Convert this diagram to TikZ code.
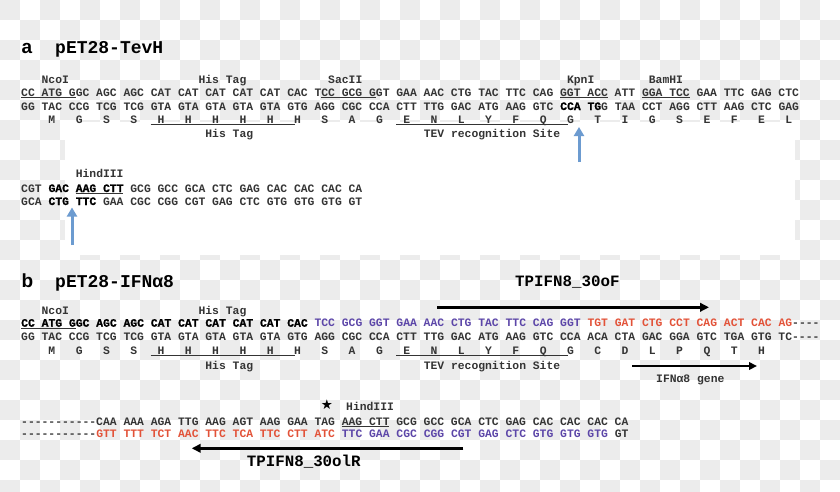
\documentclass[tikz,border=0pt]{standalone}
\usepackage{fontspec}
\setmonofont{Liberation Mono}
\setsansfont{Liberation Sans}
\newfontfamily\heavyfont{Liberation Mono}[FakeBold=1]
\newfontfamily\symfont{DejaVu Sans}
\usetikzlibrary{arrows.meta}

\definecolor{seqgray}{RGB}{52,52,52}
\definecolor{seqpurple}{RGB}{92,70,168}
\definecolor{seqred}{RGB}{226,82,56}
\definecolor{cutblue}{RGB}{108,155,208}
\definecolor{checker}{RGB}{236,236,236}

% sequence colouring
\newcommand{\emseq}[1]{{\heavyfont\bfseries\color{black}#1}}
\newcommand{\purseq}[1]{{\color{seqpurple}#1}}
\newcommand{\redseq}[1]{{\color{seqred}#1}}
% x position of a sequence column
\newcommand{\cx}[1]{(21+6.823*(#1))}

\begin{document}
\begin{tikzpicture}[x=1pt,y=-1pt,
    seq/.style={anchor=base west,inner sep=0pt,text=seqgray,
        font=\ttfamily\bfseries\fontsize{11.37}{13}\selectfont},
    title/.style={anchor=base west,inner sep=0pt,text=black,
        font=\ttfamily\bfseries\fontsize{18}{20}\selectfont},
    panel/.style={anchor=base west,inner sep=0pt,text=black,
        font=\sffamily\bfseries\fontsize{19}{21}\selectfont},
    primerlabel/.style={anchor=base west,inner sep=0pt,text=black,
        font=\ttfamily\bfseries\fontsize{15.8}{18}\selectfont},
    uline/.style={seqgray,line width=0.9pt},
    cutarrow/.style={cutblue,line width=3pt,-{Triangle[length=9pt,width=10pt]}},
    primer/.style={black,line width=2.6pt,-{Triangle[length=9pt,width=8.5pt]}},
    genearrow/.style={black,line width=2pt,-{Triangle[length=8pt,width=7.5pt]}}]

    \useasboundingbox (0,0) rectangle (840,491);

    % Background
    \foreach \i in {0,...,41}
        \foreach \j in {0,...,24}{
            \pgfmathtruncatemacro\s{mod(\i+\j,2)}
            \ifnum\s=0 \fill[checker] (20*\i,20*\j) rectangle ++(20,20); \fi
        }
    \fill[white] (65,122) rectangle (795,255);

    % Panel a
    \node[panel] (panelA) at (21.5,53) {a};
    \node[title] (nameA) at (55,53) {pET28-TevH};

    \node[seq] (ncoiA) at ({\cx{3}},83.4) {NcoI};
    \node[seq] (histagA) at ({\cx{26}},83.4) {His Tag};
    \node[seq] (sacii) at ({\cx{45}},83.4) {SacII};
    \node[seq] (kpni) at ({\cx{80}},83.4) {KpnI};
    \node[seq] (bamhi) at ({\cx{92}},83.4) {BamHI};

    \node[seq] (seqA1) at ({\cx{0}},96.5) {CC ATG GGC AGC AGC CAT CAT CAT CAT CAT CAC TCC GCG GGT GAA AAC CTG TAC TTC CAG GGT ACC ATT GGA TCC GAA TTC GAG CTC};
    \node[seq] (seqA2) at ({\cx{0}},110) {GG TAC CCG TCG TCG GTA GTA GTA GTA GTA GTG AGG CGC CCA CTT TTG GAC ATG AAG GTC \emseq{CCA TG}G TAA CCT AGG CTT AAG CTC GAG};
    \foreach \aa [count=\k from 0] in {M,G,S,S,H,H,H,H,H,H,S,A,G,E,N,L,Y,F,Q,G,T,I,G,S,E,F,E,L}
        \node[seq] (aaA\k) at ({\cx{4+4*\k}},123) {\aa};

    \draw[uline] ({\cx{0}},97.8) -- ({\cx{8}},97.8);
    \draw[uline] ({\cx{44}},97.8) -- ({\cx{52}},97.8);
    \draw[uline] ({\cx{79}},97.8) -- ({\cx{86}},97.8);
    \draw[uline] ({\cx{91}},97.8) -- ({\cx{98}},97.8);
    \draw[uline] ({\cx{19}},124.3) -- ({\cx{40.2}},124.3);
    \draw[uline] ({\cx{55}},124.3) -- ({\cx{80.2}},124.3);

    \node[seq] (histagA2) at ({\cx{27}},137.2) {His Tag};
    \node[seq] (tevA) at ({\cx{59}},137.2) {TEV recognition Site};

    \node[seq] (hindA) at ({\cx{8}},177.3) {HindIII};
    \node[seq] (seqA4) at ({\cx{0}},192) {CGT \emseq{GAC AAG CTT} GCG GCC GCA CTC GAG CAC CAC CAC CA};
    \node[seq] (seqA5) at ({\cx{0}},205) {GCA \emseq{CTG TTC} GAA CGC CGG CGT GAG CTC GTG GTG GTG GT};
    \draw[uline] ({\cx{8}},193.3) -- ({\cx{15}},193.3);

    % Cut sites
    \coordinate (kpnTail) at (579,162);
    \coordinate (kpnTip) at (579,127);
    \draw[cutarrow] (kpnTail) -- (kpnTip);
    \coordinate (hindTail) at (72,245);
    \coordinate (hindTip) at (72,207.5);
    \draw[cutarrow] (hindTail) -- (hindTip);

    % Panel b
    \node[panel] (panelB) at (21.5,287) {b};
    \node[title] (nameB) at (55,287) {pET28-IFNα8};

    \node[primerlabel] (fwdLabel) at (515,286.2) {TPIFN8\_30oF};
    \coordinate (fwdStart) at (437,307.3);
    \coordinate (fwdEnd) at (709,307.3);
    \draw[primer] (fwdStart) -- (fwdEnd);

    \node[seq] (ncoiB) at ({\cx{3}},314) {NcoI};
    \node[seq] (histagB) at ({\cx{26}},314) {His Tag};

    \node[seq] (seqB1) at ({\cx{0}},326.7) {\emseq{CC ATG GGC AGC AGC CAT CAT CAT CAT CAT CAC} \purseq{TCC GCG GGT GAA AAC CTG TAC TTC CAG GGT} \redseq{TGT GAT CTG CCT CAG ACT CAC AG}----};
    \node[seq] (seqB2) at ({\cx{0}},340.5) {GG TAC CCG TCG TCG GTA GTA GTA GTA GTA GTG AGG CGC CCA CTT TTG GAC ATG AAG GTC CCA ACA CTA GAC GGA GTC TGA GTG TC----};
    \foreach \aa [count=\k from 0] in {M,G,S,S,H,H,H,H,H,H,S,A,G,E,N,L,Y,F,Q,G,C,D,L,P,Q,T,H}
        \node[seq] (aaB\k) at ({\cx{4+4*\k}},354) {\aa};

    \draw[uline] ({\cx{0}},328) -- ({\cx{8}},328);
    \draw[uline] ({\cx{19}},355.3) -- ({\cx{40.2}},355.3);
    \draw[uline] ({\cx{55}},355.3) -- ({\cx{80.2}},355.3);

    \node[seq] (histagB2) at ({\cx{27}},369.2) {His Tag};
    \node[seq] (tevB) at ({\cx{59}},369.2) {TEV recognition Site};
    \coordinate (geneStart) at (632,366);
    \coordinate (geneEnd) at (757,366);
    \draw[genearrow] (geneStart) -- (geneEnd);
    \node[seq] (geneLabel) at (656,382.6) {IFNα8 gene};

    \node[font=\symfont\fontsize{13.5}{14}\selectfont,inner sep=0pt] (stop) at (327,405) {★};
    \node[seq] (hindB) at (346,410) {HindIII};
    \node[seq] (seqB4) at ({\cx{0}},425) {-----------CAA AAA AGA TTG AAG AGT AAG GAA TAG AAG CTT GCG GCC GCA CTC GAG CAC CAC CAC CA};
    \node[seq] (seqB5) at ({\cx{0}},437.5) {-----------\redseq{GTT TTT TCT AAC TTC TCA TTC CTT ATC} \purseq{TTC GAA CGC CGG CGT GAG CTC GTG GTG GTG} GT};
    \draw[uline] ({\cx{47}},426.3) -- ({\cx{54}},426.3);

    \coordinate (revStart) at (463.3,448.3);
    \coordinate (revEnd) at (191.7,448.3);
    \draw[primer] (revStart) -- (revEnd);
    \node[primerlabel] (revLabel) at (246.7,466.2) {TPIFN8\_30olR};
\end{tikzpicture}
\end{document}
